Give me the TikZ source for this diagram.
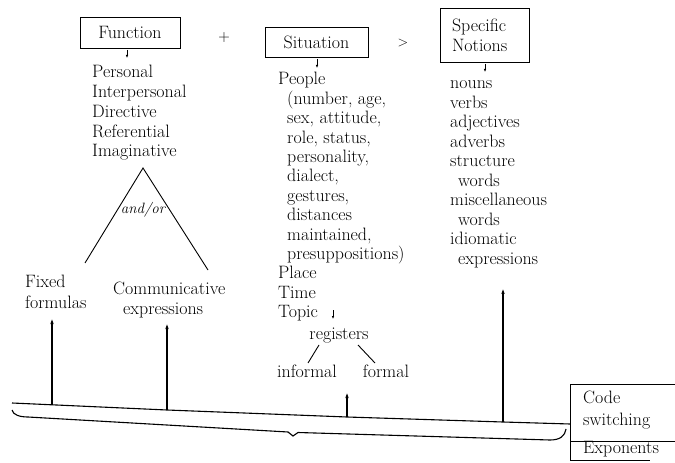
\documentclass[tikz,border=0pt]{standalone}
\usetikzlibrary{arrows.meta,calc}
\begin{document}
\begin{tikzpicture}[x=1bp,y=-1bp,
  txt/.style={font=\fontsize{18}{19.5}\selectfont, inner sep=0pt, anchor=base west},
  hbox/.style={draw, line width=0.9bp, font=\fontsize{18}{20}\selectfont, inner sep=0pt, align=left},
  ln/.style={line width=0.9bp},
  up/.style={line width=1.2bp, -{Latex[length=6bp,width=3.5bp]}},
  tick/.style={line width=0.8bp, -{Latex[length=3bp,width=2.5bp]}}]
\useasboundingbox (0,0) rectangle (675,463);

% header boxes
\node[hbox, minimum width=100bp, minimum height=31bp] (fun) at (130,32.5) {Function};
\node[font=\fontsize{16}{18}\selectfont, inner sep=0pt] (plus) at (224,38) {+};
\node[hbox, minimum width=103bp, minimum height=30bp] (sit) at (316.5,42) {Situation};
\node[font=\fontsize{14}{16}\selectfont, inner sep=0pt] (gt) at (403,43) {>};
\node[hbox, minimum width=89bp, minimum height=54bp, text width=65bp] (not) at (484.5,35) {Specific\\Notions};

% small arrows under boxes
\coordinate (fa) at (127,50); \coordinate (fb) at (127,58);
\draw[tick] (fa) -- (fb);
\coordinate (sa) at (317,59); \coordinate (sb) at (317,68);
\draw[tick] (sa) -- (sb);
\coordinate (na) at (485,64); \coordinate (nb) at (485,72);
\draw[tick] (na) -- (nb);

% function list
\foreach \t [count=\i from 0] in {Personal,Interpersonal,Directive,Referential,Imaginative}
  \node[txt] (fn\i) at (92,{78+19.7*\i}) {\t};

% situation list
\foreach \x/\t [count=\i from 0] in {278/People, 287/{(number, age,}, 287/{sex, attitude,},
   287/{role, status,}, 287/{personality,}, 287/{dialect,}, 287/{gestures,}, 287/distances,
   287/{maintained,}, 287/{presuppositions)}, 278/Place, 278/Time, 278/Topic}
  \node[txt] (sn\i) at (\x,{85+19.4*\i}) {\t};

\coordinate (ta) at (333,310); \coordinate (tb) at (333,319);
\draw[tick] (ta) -- (tb);
\node[txt, anchor=base] (reg) at (339,339) {registers};
\node[txt, anchor=base] (inf) at (307,377) {informal};
\node[txt, anchor=base] (for) at (386,377) {formal};
\coordinate (r1) at (319,345); \coordinate (r2) at (308,363);
\coordinate (r3) at (358,345); \coordinate (r4) at (375,363);
\draw[ln] (r1) -- (r2);
\draw[ln] (r3) -- (r4);

% specific notions list
\foreach \x/\t [count=\i from 0] in {450/nouns, 450/verbs, 450/adjectives, 450/adverbs,
   450/structure, 458/words, 450/miscellaneous, 458/words, 450/idiomatic, 458/expressions}
  \node[txt] (nn\i) at (\x,{89+19.5*\i}) {\t};

% triangle
\coordinate (apex) at (143,168);
\coordinate (tl) at (85,263);
\coordinate (tr) at (208,270);
\draw[ln] (tl) -- (apex) -- (tr);
\node[font=\fontsize{15}{17}\selectfont\itshape, inner sep=0pt] (andor) at (143,210) {and/or};

% fixed formulas / communicative expressions
\node[txt] (fix1) at (25,288) {Fixed};
\node[txt] (fix2) at (25,309) {formulas};
\node[txt] (com1) at (113,295) {Communicative};
\node[txt] (com2) at (123,315) {expressions};

% base line
\coordinate (b0) at (12,403);
\coordinate (bf) at (52,404.8);
\coordinate (bc) at (167,410);
\coordinate (br) at (347,417);
\coordinate (bn) at (503,422);
\coordinate (b1) at (570,424);
\draw[line width=1.1bp] (b0) -- (bf) -- (bc) -- (br) -- (bn) -- (b1);

% arrows up
\coordinate (tf) at (52,318);
\coordinate (tc) at (167,323);
\coordinate (tr2) at (347,392);
\coordinate (tn) at (503,288);
\draw[up] (bf) -- (tf);
\draw[up] (bc) -- (tc);
\draw[up] (br) -- (tr2);
\draw[up] (bn) -- (tn);

% brace
\coordinate (c0) at (12,410);
\coordinate (c1) at (28,417);
\coordinate (c2) at (288,432);
\coordinate (c3) at (293,436);
\coordinate (c4) at (298,432.5);
\coordinate (c5) at (550,440);
\coordinate (c6) at (566,429);
\draw[line width=1.1bp] (c0) .. controls (13,415) and (20,417) .. (c1) -- (c2) -- (c3) -- (c4) -- (c5) .. controls (560,440) and (565,436) .. (c6);

% right box
\coordinate (x0) at (675,384);
\coordinate (x1) at (570,384);
\coordinate (x2) at (570,460);
\coordinate (x3) at (650,460);
\coordinate (d0) at (570,441);
\coordinate (d1) at (675,441);
\draw[ln] (x0) -- (x1) -- (x2) -- (x3);
\draw[ln] (d0) -- (d1);
\node[txt] (code1) at (583,403) {Code};
\node[txt] (code2) at (583,425) {switching};
\node[txt] (expo) at (583,453) {Exponents};
\end{tikzpicture}
\end{document}
